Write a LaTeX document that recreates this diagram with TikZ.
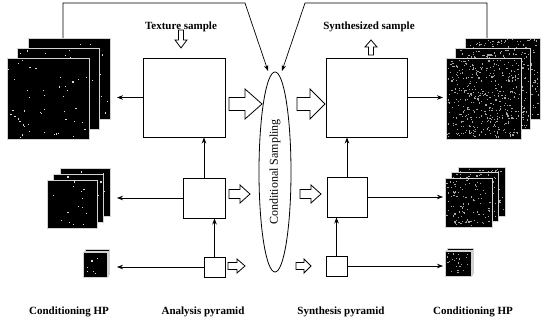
\documentclass[tikz,border=0pt]{standalone}
\usepackage{fontspec}
\setmainfont{Liberation Serif}
\usetikzlibrary{arrows.meta,shapes.geometric}
\pgfmathsetseed{7}
\newcommand\texsq[6]{%
  \fill[black] (#1,#2) rectangle ++(#3,#4);
  \foreach \k in {1,...,#5}{%
    \pgfmathsetmacro\rx{#1+1+rnd*(#3-3)}%
    \pgfmathsetmacro\ry{#2+1+rnd*(#4-3)}%
    \fill[#6] (\rx,\ry) rectangle ++(1.2,1.2);}%
  \draw[gray!35, line width=0.3pt] (#1,#2) rectangle ++(#3,#4);}
\newcommand\texstack[8]{\foreach \L in {2,1,0}{\texsq{#1+\L*#5}{#2-\L*#6}{#3}{#4}{#7}{#8}}}
\tikzset{
  pics/harrow/.style n args={4}{code={%
    \draw[line width=0.8pt, fill=white] (0,-#2) -- (#1-#4,-#2) -- (#1-#4,-#3) -- (#1,0) -- (#1-#4,#3) -- (#1-#4,#2) -- (0,#2) -- cycle;}},
  box/.style={draw, line width=0.9pt, fill=white, inner sep=0pt},
  conn/.style={line width=0.7pt, -{Stealth[length=6pt,width=4.5pt]}},
  lab/.style={font=\bfseries\fontsize{11}{13}\selectfont, inner sep=1pt}
}
\begin{document}
\begin{tikzpicture}[x=1pt,y=-1pt]
\useasboundingbox (0,0) rectangle (544,328);
% texture stacks
\texstack{7}{58}{82}{81}{10.5}{10}{45}{white!85!black}
\texstack{47}{180}{50}{48}{6.5}{6}{14}{white!85!black}
\texstack{83}{252}{24}{25}{1.2}{1.2}{6}{white!85!black}
\texstack{446}{58}{75}{81}{9.5}{10}{380}{gray!70}
\texstack{445}{178}{47}{49}{6.5}{5.5}{90}{gray!70}
\texstack{445}{251}{26}{25}{1.2}{1.2}{22}{gray!70}
\coordinate (tlt) at (63,38);
\coordinate (trt) at (487,38);
\coordinate (tlr) at (117,97.5);
\coordinate (mlr) at (117,198);
\coordinate (slr) at (117,267);
\coordinate (trl) at (443,97.5);
\coordinate (mrl) at (443,197);
\coordinate (srl) at (443,266);
% boxes
\node[box, minimum width=82pt, minimum height=79pt] (tex) at (184,97.5) {};
\node[box, minimum width=42pt, minimum height=40pt] (ana2) at (204,198) {};
\node[box, minimum width=21pt, minimum height=20pt] (ana3) at (214.5,267) {};
\node[box, minimum width=81pt, minimum height=79pt] (syn) at (366.5,97.5) {};
\node[box, minimum width=40pt, minimum height=40pt] (syn2) at (347,197) {};
\node[box, minimum width=21pt, minimum height=20pt] (syn3) at (336.5,266) {};
\node[draw, ellipse, line width=0.8pt, rotate=90, minimum width=200pt, minimum height=32pt, inner sep=0pt, font=\fontsize{12}{14}\selectfont] (cs) at (275,172) {Conditional Sampling};
\coordinate (e1) at (268,71);
\coordinate (e2) at (282,71);
\coordinate (c1) at (245,3);
\coordinate (c2) at (305,3);
% connectors
\draw[conn] (tex.west) -- (tlr);
\draw[conn] (ana2.west) -- (mlr);
\draw[conn] (ana3.west) -- (slr);
\draw[conn] (syn.east) -- (trl);
\draw[conn] (syn2.east) -- (mrl);
\draw[conn] (syn3.east) -- (srl);
\draw[conn] (ana2.north) -- (ana2.north |- tex.south);
\draw[conn] (ana3.north) -- (ana3.north |- ana2.south);
\draw[conn] (syn2.north) -- (syn2.north |- syn.south);
\draw[conn] (syn3.north) -- (syn3.north |- syn2.south);
\draw[conn] (tlt) |- (c1) -- (e1);
\draw[conn] (trt) |- (c2) -- (e2);
% hollow arrows
\pic[rotate=-90] at (181,30) {harrow={18}{2.5}{6}{8}};
\pic[rotate=90] at (371,55) {harrow={15}{2.5}{6}{7}};
\pic at (229,104) {harrow={33}{6.5}{15}{17}};
\pic at (297,104) {harrow={28}{6.5}{15}{15}};
\pic at (229,194) {harrow={21}{4.5}{9}{10}};
\pic at (300,194) {harrow={21}{4.5}{9}{10}};
\pic at (228,266) {harrow={17}{3.5}{7}{8}};
\pic at (296,266) {harrow={15}{3.5}{7}{7}};
% labels
\node[lab] (lts) at (181,27) {Texture sample};
\node[lab] (lss) at (369,27) {Synthesized sample};
\node[lab] (l1) at (69,312) {Conditioning HP};
\node[lab] (l2) at (203,312) {Analysis pyramid};
\node[lab] (l3) at (341,312) {Synthesis pyramid};
\node[lab] (l4) at (473,312) {Conditioning HP};
\end{tikzpicture}
\end{document}
